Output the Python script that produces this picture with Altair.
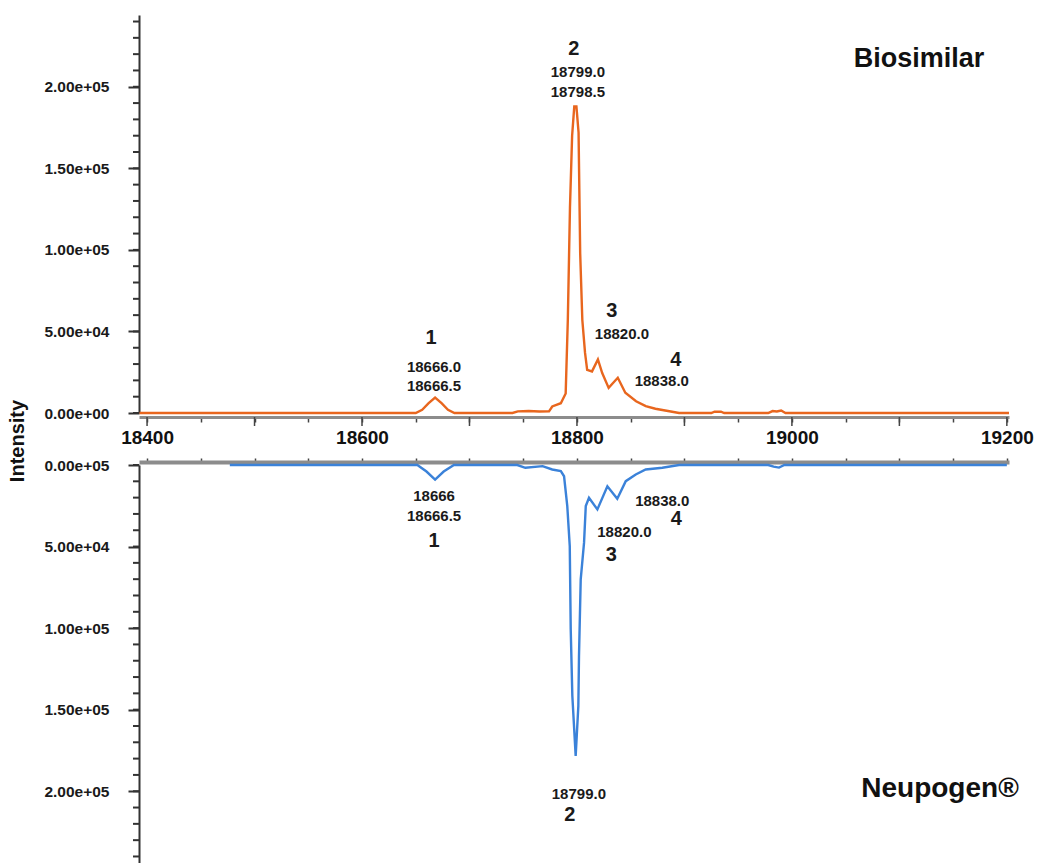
import altair as alt
import pandas as pd

# ---------------- data ----------------
bio_mass = [18393, 18650, 18656, 18662, 18668, 18674, 18680, 18686, 18740, 18745, 18755, 18765,
            18774, 18777, 18785, 18789.5, 18791.5, 18793.5, 18795.5, 18797.5, 18799.5, 18801.5,
            18803, 18805, 18807.5, 18809.5, 18814, 18819.5, 18823.5, 18829.5, 18838, 18845, 18855,
            18864, 18873, 18886, 18895, 18925, 18928, 18934, 18937, 18978, 18982, 18986, 18990,
            18994, 19202]
bio_int = [0, 0, 2000, 6000, 9500, 6000, 2000, 0, 0, 1000, 1200, 900,
           1000, 4000, 6000, 12000, 57000, 126000, 170000, 188000, 188000, 172000,
           98000, 57000, 37000, 26500, 25500, 32800, 24500, 15400, 21600, 12400, 7200,
           4200, 2600, 1100, 0, 0, 800, 800, 0, 0, 1200, 900, 1500,
           0, 0]

neu_mass = [18477, 18651.5, 18660, 18668, 18676, 18685.5, 18744.5, 18752, 18768, 18777, 18785,
            18788, 18791, 18793.3, 18794.2, 18795.7, 18798.8, 18801.3, 18801.9, 18803.5, 18806.6,
            18808.2, 18811.2, 18819, 18828.3, 18837.5, 18845.4, 18854.7, 18864, 18879.4, 18895,
            18978, 18983, 18988, 18993, 19200]
neu_int = [0, 0, 4000, 8900, 4000, 0, 0, 1700, 700, 2750, 3800,
           6900, 25200, 49700, 100700, 141500, 178300, 147700, 117000, 70100, 47600,
           25200, 20100, 27200, 13000, 20700, 9900, 5800, 2750, 1700, 0,
           0, 1000, 1600, 0, 0]

peak_ids = ["1", "2", "3", "4"]
bio_peak_mass = [18667, 18799, 18819.5, 18838]
bio_peak_int = [9500, 188000, 32800, 21600]
bio_peak_texts = [["18666.0", "18666.5"], ["18799.0", "18798.5"], ["18820.0"], ["18838.0"]]
neu_peak_mass = [18668, 18799, 18819, 18837.5]
neu_peak_int = [8900, 178300, 27200, 20700]
neu_peak_texts = [["18666", "18666.5"], ["18799.0"], ["18820.0"], ["18838.0"]]

y_major = [0, 50000, 100000, 150000, 200000]
y_minor = list(range(0, 240001, 10000))
top_y_labels = ["0.00e+00", "5.00e+04", "1.00e+05", "1.50e+05", "2.00e+05"]
bot_y_labels = ["0.00e+05", "5.00e+04", "1.00e+05", "1.50e+05", "2.00e+05"]
x_ticks = list(range(18400, 19201, 50))
x_long_ticks = list(range(18400, 19201, 100))
x_labelled = [18400, 18600, 18800, 19000, 19200]

sample_top = "Biosimilar"
sample_bottom = "Neupogen®"
y_title = "Intensity"

# ---------------- layout / style ----------------
FONT = "Liberation Sans"
ORANGE = "#E8661E"
BLUE = "#3B82D9"
W, H = 870, 398
GAP = 52

top_id_off = [(-3, -60), (-2, -57), (14, -48), (58, -18)]
top_txt_off = [[(0, -31), (0, -12)], [(2, -34), (2, -14)], [(24, -25)], [(44, 3)]]
bot_id_off = [(-1, 61), (-6, 59), (14, 46), (59, 20)]
bot_txt_off = [[(-1, 16), (-1, 36)], [(3, 38)], [(27, 23)], [(45, 2)]]

xs = alt.Scale(domain=[18392.5, 19202], nice=False, zero=False)
ys_top = alt.Scale(domain=[0, 244000], nice=False, zero=False)
ys_bot = alt.Scale(domain=[0, 244000], nice=False, zero=False, reverse=True)


def label_expr(values, labels):
    expr = "''"
    for v, l in reversed(list(zip(values, labels))):
        expr = f"datum.value == {v} ? '{l}' : ({expr})"
    return expr


x_lab_expr = " || ".join(f"datum.value == {v}" for v in x_labelled)
x_lab_expr = f"({x_lab_expr}) ? datum.label : ''"

bio_df = pd.DataFrame({"mass": bio_mass, "intensity": bio_int})
neu_df = pd.DataFrame({"mass": neu_mass, "intensity": neu_int})


def y_axis(labels):
    return alt.Axis(values=y_major, labelExpr=label_expr(y_major, labels), domainColor="#333",
                    domainWidth=2, tickColor="#333", tickSize=11, tickWidth=2, labelFont=FONT,
                    labelFontSize=15.5, labelFontWeight="bold", labelColor="#1a1a1a",
                    labelPadding=19, title=None, grid=False, labelOverlap=False)


x_axis_top = alt.Axis(values=x_ticks, format="d", labelExpr=x_lab_expr, orient="bottom", offset=4,
                      domainColor="#8c8c8c", domainWidth=3, tickColor="#444", tickSize=5,
                      tickWidth=1.5, labelFont=FONT, labelFontSize=19, labelFontWeight="bold",
                      labelColor="#111", labelPadding=6, labelOverlap=False, labelFlush=False,
                      title=None, grid=False)
x_axis_bot = alt.Axis(values=x_ticks, orient="top", offset=3, labels=False,
                      domainColor="#8c8c8c", domainWidth=4, tickColor="#444", tickSize=4,
                      tickWidth=1.5, title=None, grid=False)
y_axis_top = y_axis(top_y_labels)
y_axis_bot = y_axis(bot_y_labels)


def annotations(pmass, pint, texts, id_off, txt_off, yscale, xax, yax):
    layers = []
    for k in range(len(pmass)):
        items = [(peak_ids[k], 20, id_off[k])] + [(t, 15, o) for t, o in zip(texts[k], txt_off[k])]
        for txt, size, (dx, dy) in items:
            df = pd.DataFrame({"m": [pmass[k]], "i": [pint[k]], "t": [txt]})
            layers.append(
                alt.Chart(df).mark_text(dx=dx, dy=dy, fontSize=size, fontWeight="bold", font=FONT,
                                        color="#1a1a1a", baseline="middle", align="center")
                .encode(x=alt.X("m:Q", scale=xs, axis=xax),
                        y=alt.Y("i:Q", scale=yscale, axis=yax),
                        text="t:N")
            )
    return layers


def minor_y(yscale, yax):
    return alt.Chart(pd.DataFrame({"v": y_minor})).mark_rule(color="#333", strokeWidth=2).encode(
        y=alt.Y("v:Q", scale=yscale, axis=yax), x=alt.value(-6), x2=alt.value(0))


# ---------------- top panel ----------------
top_line = alt.Chart(bio_df).mark_line(color=ORANGE, strokeWidth=2.4).encode(
    x=alt.X("mass:Q", scale=xs, axis=x_axis_top),
    y=alt.Y("intensity:Q", scale=ys_top, axis=y_axis_top),
)

top_long = alt.Chart(pd.DataFrame({"v": x_long_ticks})).mark_rule(color="#444", strokeWidth=1.5).encode(
    x=alt.X("v:Q", scale=xs, axis=x_axis_top), y=alt.value(H + 4), y2=alt.value(H + 13))

top_name = alt.Chart(pd.DataFrame({"t": [sample_top]})).mark_text(
    fontSize=27, fontWeight="bold", font=FONT, color="#111", align="center", baseline="alphabetic"
).encode(x=alt.value(780), y=alt.value(52), text="t:N")

y_title_mark = alt.Chart(pd.DataFrame({"t": [y_title]})).mark_text(
    fontSize=20, fontWeight="bold", font=FONT, color="#111", align="center", baseline="alphabetic",
    angle=270
).encode(x=alt.value(-115), y=alt.value(426), text="t:N")

top = alt.layer(
    top_line, minor_y(ys_top, y_axis_top), top_long, top_name, y_title_mark,
    *annotations(bio_peak_mass, bio_peak_int, bio_peak_texts, top_id_off, top_txt_off, ys_top,
                 x_axis_top, y_axis_top)
).properties(width=W, height=H)

# ---------------- bottom panel ----------------
bot_line = alt.Chart(neu_df).mark_line(color=BLUE, strokeWidth=2.4).encode(
    x=alt.X("mass:Q", scale=xs, axis=x_axis_bot),
    y=alt.Y("intensity:Q", scale=ys_bot, axis=y_axis_bot),
)

bot_name = alt.Chart(pd.DataFrame({"t": [sample_bottom]})).mark_text(
    fontSize=28, fontWeight="bold", font=FONT, color="#111", align="center", baseline="alphabetic"
).encode(x=alt.value(801), y=alt.value(332), text="t:N")

bottom = alt.layer(
    bot_line, minor_y(ys_bot, y_axis_bot), bot_name,
    *annotations(neu_peak_mass, neu_peak_int, neu_peak_texts, bot_id_off, bot_txt_off, ys_bot,
                 x_axis_bot, y_axis_bot)
).properties(width=W, height=H)

chart = alt.vconcat(top, bottom, spacing=GAP, bounds="flush").properties(
    padding={"left": 8, "top": 15, "right": 0, "bottom": 0},
    background="white",
).configure_view(stroke=None)

chart.save("out.html", embed_options={"renderer": "svg", "actions": False})
